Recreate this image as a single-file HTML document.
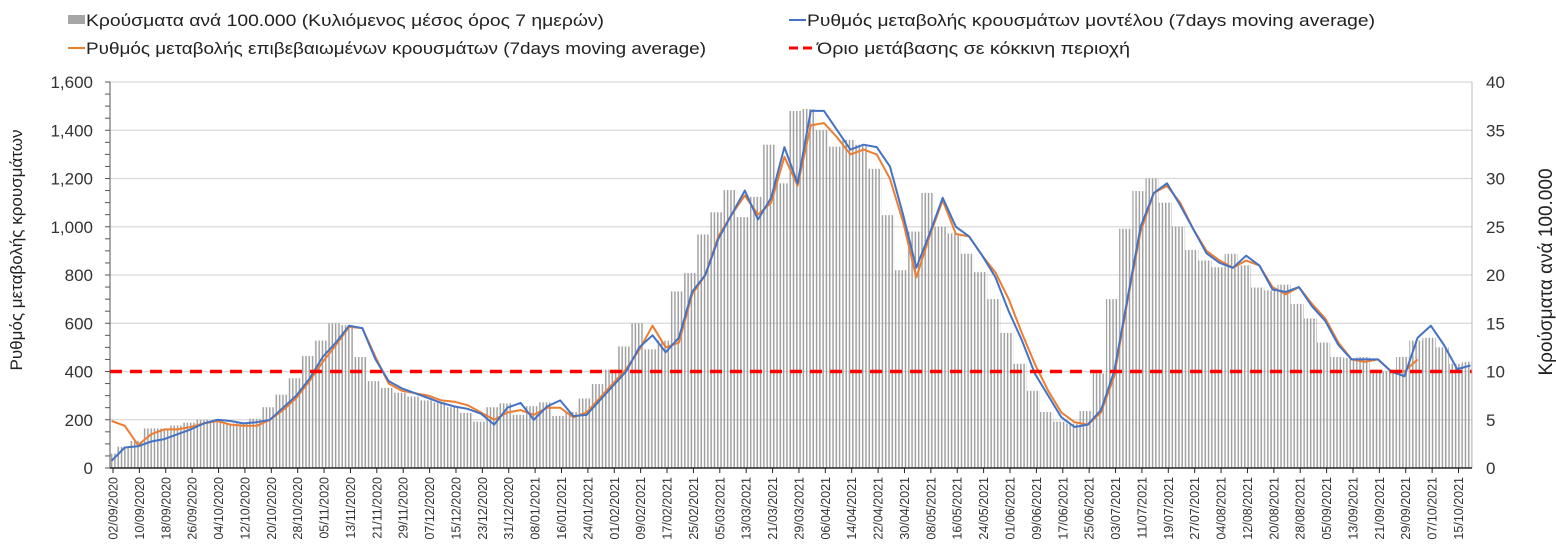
<!DOCTYPE html>
<html><head><meta charset="utf-8">
<style>
body{margin:0;background:#fff;}
svg{display:block;font-family:"Liberation Sans","DejaVu Sans",sans-serif;}
</style></head>
<body>
<svg id="chart" width="1556" height="559">
<defs>
<pattern id="stripes" patternUnits="userSpaceOnUse" x="110" y="0" width="3.294" height="10">
<rect x="0.9" y="0" width="1.5" height="10" fill="#a0a0a0"/>
</pattern>
</defs>
<g id="legend">
<g>
<rect x="68" y="15" width="17" height="9" fill="#a6a6a6"/>
<text x="86" y="26" font-size="17" fill="#222" textLength="518" lengthAdjust="spacingAndGlyphs">Κρούσματα ανά 100.000  (Κυλιόμενος μέσος όρος 7 ημερών)</text>
</g>
<g>
<line x1="68" y1="48" x2="85" y2="48" stroke="#ed7d31" stroke-width="2"/>
<text x="86" y="54" font-size="17" fill="#222" textLength="620" lengthAdjust="spacingAndGlyphs">Ρυθμός μεταβολής επιβεβαιωμένων κρουσμάτων (7days moving average)</text>
</g>
<g>
<line x1="789" y1="20" x2="806" y2="20" stroke="#4472c4" stroke-width="2"/>
<text x="807" y="26" font-size="17" fill="#222" textLength="568" lengthAdjust="spacingAndGlyphs">Ρυθμός μεταβολής κρουσμάτων μοντέλου (7days moving average)</text>
</g>
<g>
<line x1="789" y1="48" x2="815" y2="48" stroke="#ff0000" stroke-width="3" stroke-dasharray="9,5"/>
<text x="817" y="54" font-size="17" fill="#222" textLength="313" lengthAdjust="spacingAndGlyphs">Όριο μετάβασης σε κόκκινη περιοχή</text>
</g>
</g>
<text transform="translate(22,250) rotate(-90)" text-anchor="middle" font-size="17" fill="#222">Ρυθμός μεταβολής κρουσμάτων</text>
<text transform="translate(1552,272) rotate(-90)" text-anchor="middle" font-size="19" fill="#222">Κρούσματα ανά 100.000</text>
<g id="grid"></g>
<g id="bars"></g>
<g id="lines"></g>
<g id="axes"></g>
</svg>
<script>
const leftTicks = [0,200,400,600,800,1000,1200,1400,1600];
const rightTicks = [0,5,10,15,20,25,30,35,40];
const startDate = [2020,8,2];
const dayStep = 4;
const threshold = 400;
const modelRate = [30,85,90,110,120,140,160,185,200,195,185,190,200,250,300,370,460,520,590,580,450,360,330,310,290,270,255,245,225,180,250,270,200,255,280,215,220,280,340,400,500,550,480,540,730,800,950,1050,1150,1030,1120,1330,1180,1480,1480,1400,1320,1340,1330,1250,1050,830,970,1120,1000,960,880,790,650,530,390,300,210,170,180,240,400,700,1000,1140,1180,1090,990,890,850,830,880,840,740,730,750,670,610,510,450,450,450,400,380,540,590,510,410,425];
const confirmedRate = [195,175,95,140,160,160,170,185,195,180,175,175,200,240,290,360,440,510,585,580,460,350,320,310,300,280,275,260,230,200,230,240,220,250,250,210,230,290,350,410,490,590,500,520,720,800,960,1050,1130,1050,1100,1290,1170,1420,1430,1370,1300,1320,1300,1200,1020,790,960,1110,970,960,880,810,700,560,430,320,230,190,180,230,380,690,980,1140,1170,1100,990,900,860,830,860,840,750,720,750,680,620,520,450,440,450,400,400,450,null,null,null,null];
const casesPer100k = [1.5,2.2,2.8,4.1,4.1,4.4,4.7,5.0,4.8,4.6,4.7,5.1,6.3,7.6,9.3,11.6,13.2,15.0,14.8,11.5,9.0,8.3,7.8,7.4,7.0,6.8,6.3,5.7,4.8,6.3,6.7,5.5,6.4,6.8,5.4,5.8,7.2,8.7,10.2,12.6,15.0,12.3,13.2,18.3,20.2,24.2,26.5,28.8,26.0,28.1,33.5,29.5,37.0,37.2,35.0,33.3,34.0,33.5,31.0,26.2,20.5,24.5,28.5,25.0,24.3,22.2,20.3,17.5,14.0,10.8,8.0,5.8,4.8,4.6,5.9,9.8,17.5,24.8,28.7,30.0,27.5,25.0,22.6,21.5,20.8,22.2,21.0,18.7,18.4,19.0,17.0,15.5,13.0,11.5,11.4,11.5,10.2,10.0,11.5,13.2,13.5,12.5,10.8,11.0];

const NS='http://www.w3.org/2000/svg';
const X0=110, X1=1472, Y0=468, Y1=82, NDAYS=413;
const dayW=(X1-X0)/NDAYS;
function xDay(d){return X0+(d+0.5)*dayW;}
function yL(v){return Y0-(v/1600)*(Y0-Y1);}
function yR(v){return Y0-(v/40)*(Y0-Y1);}
function mk(tag,attrs,parent){const e=document.createElementNS(NS,tag);for(const k in attrs)e.setAttribute(k,attrs[k]);parent.appendChild(e);return e;}
const grid=document.getElementById('grid'),bars=document.getElementById('bars'),lines=document.getElementById('lines'),axes=document.getElementById('axes');

leftTicks.forEach(v=>{
  if(v>0){const g=mk('line',{x1:X0,x2:X1,y1:yL(v),y2:yL(v),stroke:'#d9d9d9','stroke-width':1.2},grid);
  
  }
  const t=mk('text',{x:93,y:yL(v)+6,'text-anchor':'end','font-size':17,fill:'#333'},axes);
  t.textContent=v.toLocaleString('en-US');
  
  
});
for(let v=0;v<=1600;v+=50){mk('line',{x1:X0-5,x2:X0,y1:yL(v),y2:yL(v),stroke:'#555','stroke-width':1},axes);}
rightTicks.forEach(v=>{
  const t=mk('text',{x:1486,y:yR(v)+6,'font-size':17,fill:'#333'},axes);
  t.textContent=v;
  
  
});

casesPer100k.forEach((v,i)=>{
  const d=i*dayStep; const xa=Math.max(X0,xDay(d-2)-dayW/2), xb=Math.min(X1,xDay(d+2)-dayW/2);
  const r=mk('rect',{x:xa,y:yR(v),width:Math.max(0,xb-xa),height:Y0-yR(v),fill:'url(#stripes)'},bars);
  
  
});

function path(arr,color,name){
  let s='';let pen=false;
  arr.forEach((v,i)=>{if(v===null){pen=false;return;}s+=(pen?'L':'M')+xDay(i*dayStep).toFixed(1)+','+yL(v).toFixed(1);pen=true;});
  const p=mk('path',{d:s,fill:'none',stroke:color,'stroke-width':2,'stroke-linejoin':'round'},lines);
  
  
}
path(confirmedRate,'#ed7d31','line-confirmed-rate');
path(modelRate,'#4472c4','line-model-rate');
const th=mk('line',{x1:X0,x2:X1,y1:yL(threshold),y2:yL(threshold),stroke:'#ff0000','stroke-width':3.5,'stroke-dasharray':'12,8'},lines);



mk('line',{x1:X0,x2:X0,y1:Y1,y2:Y0,stroke:'#555','stroke-width':1},axes);
mk('line',{x1:X1,x2:X1,y1:Y1,y2:Y0,stroke:'#bbb','stroke-width':1},axes);
mk('line',{x1:X0,x2:X1,y1:Y0,y2:Y0,stroke:'#222','stroke-width':1.5},axes);
const base=new Date(startDate[0],startDate[1],startDate[2]);
for(let d=0;d<NDAYS;d+=8){
  const x=X0+(d+0.5)*dayW-dayW/2+3;
  mk('line',{x1:x,x2:x,y1:Y0,y2:Y0+5,stroke:'#222','stroke-width':1},axes);
  const dt=new Date(base.getTime()+d*86400000+3600000*3);
  const lab=String(dt.getDate()).padStart(2,'0')+'/'+String(dt.getMonth()+1).padStart(2,'0')+'/'+dt.getFullYear();
  const t=mk('text',{transform:'translate('+(x+4.5)+',477) rotate(-90)','text-anchor':'end','font-size':12.5,fill:'#333'},axes);
  t.textContent=lab;
  
  
}
</script>
</body></html>
